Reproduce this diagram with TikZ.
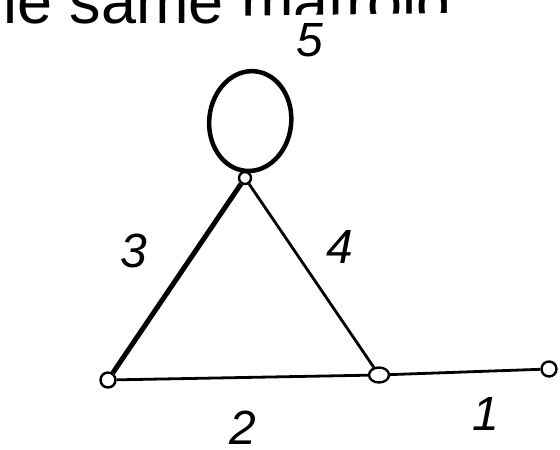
\documentclass[tikz,border=0pt]{standalone}
\usepackage{fontspec}
\setmainfont{Liberation Sans}
\usetikzlibrary{shapes.geometric}
\begin{document}
\begin{tikzpicture}[x=1pt,y=1pt,
  vertex/.style={circle,draw,fill=white,line width=2.4pt,inner sep=0pt,minimum size=12pt},
  edgeline/.style={line width=2.8pt},
  boldedge/.style={line width=5pt},
  loopline/.style={line width=4.5pt},
  lbl/.style={font=\fontsize{48}{48}\selectfont\itshape,inner sep=0pt}]
\useasboundingbox (0,0) rectangle (560,450);
\node[anchor=base west,inner sep=0pt,font=\fontsize{63}{63}\selectfont] (title) at (3,426) {le same matroid};
\fill[white] (0,0) -- (0,418) -- (215,424) -- (222,434) -- (450,437) -- (560,445) -- (560,0) -- cycle;
\node[vertex] (A) at (245,272) {};
\node[vertex,minimum size=15pt] (B) at (108,70) {};
\node[vertex,ellipse,minimum width=20pt,minimum height=15pt] (C) at (379,75) {};
\node[vertex,minimum size=15pt] (D) at (549,81) {};
\draw[boldedge] (A) -- (B);
\draw[edgeline] (A) -- (C);
\draw[edgeline] (B) -- (C);
\draw[edgeline] (C) -- (D);
\draw[loopline,rotate around={-6:(A.north)}] (A.north) arc[start angle=-90,end angle=270,x radius=41,y radius=50];
\node[lbl] (l5) at (310,410) {5};
\node[lbl] (l3) at (134,199) {3};
\node[lbl] (l4) at (340,203) {4};
\node[lbl] (l2) at (243,22) {2};
\node[lbl] (l1) at (486,36) {1};
\end{tikzpicture}
\end{document}
